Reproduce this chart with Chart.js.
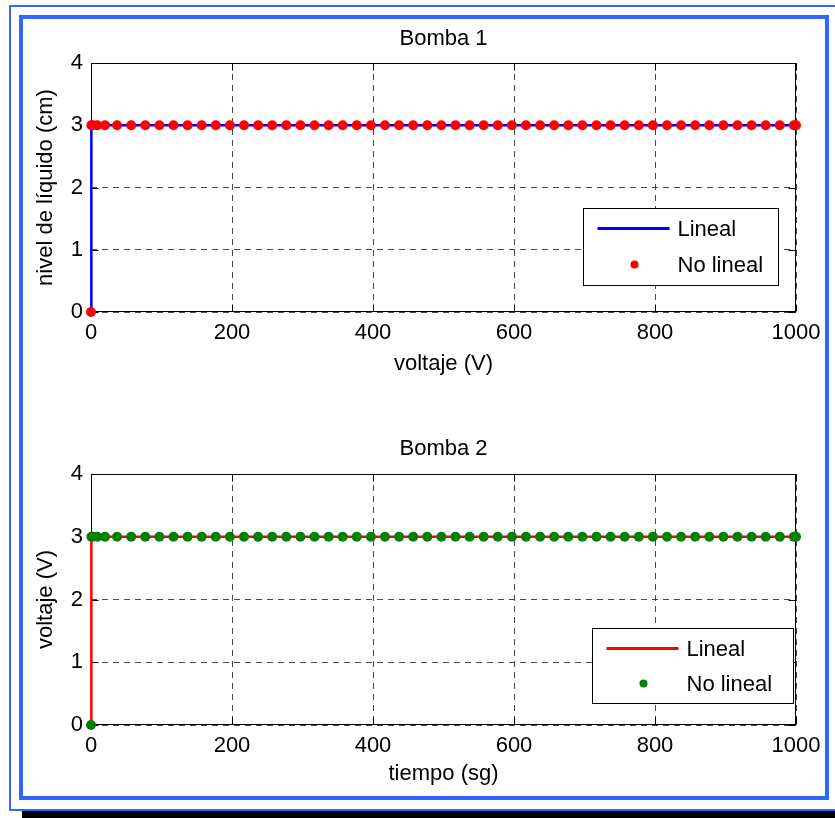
<!DOCTYPE html>
<html>
<head>
<meta charset="utf-8">
<script src="https://cdn.jsdelivr.net/npm/chart.js@4.4.1/dist/chart.umd.min.js"></script>
<style>
    html, body { margin: 0 ; padding: 0 ; background: #ffffff ; overflow: hidden ; }
    #page { position: relative ; width: 835px ; height: 818px ; }
    .frameOuter { position: absolute ; left: 9px ; top: 5px ; width: 840px ; height: 802px ; border: 2px solid #3366ff ; }
    .frameInner { position: absolute ; left: 19px ; top: 15px ; width: 802px ; height: 777px ; border: 4px solid #3366ff ; }
    .frameShadow { position: absolute ; left: 22px ; top: 811px ; width: 830px ; height: 10px ; background: #000000 ; }
    canvas { position: absolute ; left: 0 ; }
    #bomba1Canvas { top: 0 ; }
    #bomba2Canvas { top: 410px ; }
</style>
</head>
<body>
<div id="page">
    <div class="frameOuter"></div>
    <div class="frameInner"></div>
    <div class="frameShadow"></div>
    <canvas id="bomba1Canvas" width="835" height="410"></canvas>
    <canvas id="bomba2Canvas" width="835" height="408"></canvas>
</div>
<script>
// ---------------- Data --------------------------------------------------------
var tiempos = [ 0, 0.5, 2.4, 8.9, 19.9,
                37, 57, 77, 97, 117, 137, 157, 177, 197, 217, 237, 257, 277, 297,
                317, 337, 357, 377, 397, 417, 437, 457, 477, 497, 517, 537, 557, 577,
                597, 617, 637, 657, 677, 697, 717, 737, 757, 777, 797, 817, 837, 857,
                877, 897, 917, 937, 957, 977, 997, 1000 ] ;

var bomba1Lineal   = [ 0, 3, 3, 3, 3,
                       3, 3, 3, 3, 3, 3, 3, 3, 3, 3, 3, 3, 3, 3,
                       3, 3, 3, 3, 3, 3, 3, 3, 3, 3, 3, 3, 3, 3,
                       3, 3, 3, 3, 3, 3, 3, 3, 3, 3, 3, 3, 3, 3,
                       3, 3, 3, 3, 3, 3, 3, 3 ] ;
var bomba1NoLineal = [ 0, 3, 3, 3, 3,
                       3, 3, 3, 3, 3, 3, 3, 3, 3, 3, 3, 3, 3, 3,
                       3, 3, 3, 3, 3, 3, 3, 3, 3, 3, 3, 3, 3, 3,
                       3, 3, 3, 3, 3, 3, 3, 3, 3, 3, 3, 3, 3, 3,
                       3, 3, 3, 3, 3, 3, 3, 3 ] ;
var bomba2Lineal   = [ 0, 3, 3, 3, 3,
                       3, 3, 3, 3, 3, 3, 3, 3, 3, 3, 3, 3, 3, 3,
                       3, 3, 3, 3, 3, 3, 3, 3, 3, 3, 3, 3, 3, 3,
                       3, 3, 3, 3, 3, 3, 3, 3, 3, 3, 3, 3, 3, 3,
                       3, 3, 3, 3, 3, 3, 3, 3 ] ;
var bomba2NoLineal = [ 0, 3, 3, 3, 3,
                       3, 3, 3, 3, 3, 3, 3, 3, 3, 3, 3, 3, 3, 3,
                       3, 3, 3, 3, 3, 3, 3, 3, 3, 3, 3, 3, 3, 3,
                       3, 3, 3, 3, 3, 3, 3, 3, 3, 3, 3, 3, 3, 3,
                       3, 3, 3, 3, 3, 3, 3, 3 ] ;

var xTicks = [ 0, 200, 400, 600, 800, 1000 ] ;
var yTicks = [ 0, 1, 2, 3, 4 ] ;
var serieNames = [ 'Lineal', 'No lineal' ] ;

// ---------------- Styling ------------------------------------------------------
var FONT = "'Liberation Sans', Arial, sans-serif" ;
var FONT_SIZE = 22 ;

Chart.defaults.font.family = FONT ;
Chart.defaults.font.size = FONT_SIZE ;
Chart.defaults.color = '#000000' ;

function toPoints( xs, ys ) {
    var pts = [] ;
    for( var i=0; i<xs.length; i++ ) {
        pts.push( { x: xs[i], y: ys[i] } ) ;
    }
    return pts ;
}

// ---------------- Plugins ------------------------------------------------------
// Box round the plot area plus inward tick marks on all four sides.
var axesBoxPlugin = {
    id : 'axesBox',
    beforeDatasetsDraw : function( chart ) {
        var ctx = chart.ctx ;
        var a = chart.chartArea ;
        var xs = chart.scales.x ;
        var ys = chart.scales.y ;
        var L = Math.round( a.left ) + 0.5 ;
        var R = Math.round( a.right ) - 0.5 ;
        var T = Math.round( a.top ) + 0.5 ;
        var B = Math.round( a.bottom ) - 0.5 ;
        var tl = 7 ;

        ctx.save() ;
        ctx.strokeStyle = '#000000' ;
        ctx.lineWidth = 1 ;
        ctx.setLineDash( [] ) ;
        ctx.beginPath() ;
        xs.ticks.forEach( function( t ) {
            var px = Math.round( xs.getPixelForValue( t.value ) ) + 0.5 ;
            ctx.moveTo( px, B ) ; ctx.lineTo( px, B - tl ) ;
            ctx.moveTo( px, T ) ; ctx.lineTo( px, T + tl ) ;
        } ) ;
        ys.ticks.forEach( function( t ) {
            var py = Math.round( ys.getPixelForValue( t.value ) ) + 0.5 ;
            ctx.moveTo( L, py ) ; ctx.lineTo( L + tl, py ) ;
            ctx.moveTo( R, py ) ; ctx.lineTo( R - tl, py ) ;
        } ) ;
        ctx.stroke() ;
        ctx.strokeRect( L, T, R - L, B - T ) ;
        ctx.restore() ;
    }
} ;

// MATLAB style legend box inside the plot area.
var boxLegendPlugin = {
    id : 'boxLegend',
    afterDraw : function( chart, args, opts ) {
        var ctx = chart.ctx ;
        var a = chart.chartArea ;
        var w = opts.width, h = opts.height ;
        var left = Math.round( a.right - opts.right - w ) + 0.5 ;
        var top  = Math.round( a.bottom - opts.bottom - h ) + 0.5 ;
        var lineDs = chart.data.datasets[ 1 ] ;
        var dotDs  = chart.data.datasets[ 0 ] ;

        ctx.save() ;
        ctx.fillStyle = '#ffffff' ;
        ctx.fillRect( left, top, w, h ) ;
        ctx.strokeStyle = '#000000' ;
        ctx.lineWidth = 1 ;
        ctx.strokeRect( left, top, w, h ) ;

        var row1 = top + 20 ;
        var row2 = top + opts.row2 ;

        ctx.strokeStyle = lineDs.borderColor ;
        ctx.lineWidth = 3 ;
        ctx.beginPath() ;
        ctx.moveTo( left + 14, row1 ) ;
        ctx.lineTo( left + 86, row1 ) ;
        ctx.stroke() ;

        ctx.fillStyle = dotDs.backgroundColor ;
        ctx.beginPath() ;
        ctx.arc( left + 51, row2, 4, 0, Math.PI * 2 ) ;
        ctx.fill() ;

        ctx.fillStyle = '#000000' ;
        ctx.font = FONT_SIZE + 'px ' + FONT ;
        ctx.textBaseline = 'middle' ;
        ctx.textAlign = 'left' ;
        ctx.fillText( lineDs.label, left + 94, row1 + 1 ) ;
        ctx.fillText( dotDs.label, left + 94, row2 + 1 ) ;
        ctx.restore() ;
    }
} ;

// ---------------- Chart creation ---------------------------------------------
function makeChart( canvasId, p ) {

    var canvas = document.getElementById( canvasId ) ;
    return new Chart( canvas, {
        type : 'scatter',
        data : {
            datasets : [
                {
                    label           : serieNames[1],
                    data            : toPoints( tiempos, p.noLineal ),
                    showLine        : false,
                    pointRadius     : 5,
                    pointBorderWidth: 0,
                    backgroundColor : p.dotColor,
                    borderColor     : p.dotColor,
                    clip            : false,
                    order           : 0
                },
                {
                    label           : serieNames[0],
                    data            : toPoints( tiempos, p.lineal ),
                    showLine        : true,
                    pointRadius     : 0,
                    borderWidth     : 2.5,
                    borderColor     : p.lineColor,
                    backgroundColor : p.lineColor,
                    tension         : 0,
                    clip            : false,
                    order           : 1
                }
            ]
        },
        options : {
            responsive : false,
            animation : false,
            devicePixelRatio : 1,
            layout : { padding : { left: 0, right: 39, top: 0, bottom: 0 } },
            plugins : {
                legend  : { display: false },
                tooltip : { enabled: false },
                title : {
                    display : true,
                    fullSize : false,
                    text : p.title,
                    color : '#000000',
                    font : { size: FONT_SIZE, weight: 'normal', lineHeight: 1.2 },
                    padding : { top: p.titleTop, bottom: p.titleBottom }
                },
                boxLegend : p.legend
            },
            scales : {
                x : {
                    type : 'linear',
                    min : 0,
                    max : 1000,
                    afterBuildTicks : function( scale ) {
                        scale.ticks = xTicks.map( function( v ) { return { value: v } ; } ) ;
                    },
                    afterFit : function( scale ) { scale.height = p.xHeight ; },
                    ticks : { padding: 8, maxRotation: 0, autoSkip: false,
                              font : { size: FONT_SIZE },
                              callback : function( value ) { return '' + value ; } },
                    grid : { color: 'rgba(40,40,40,0.85)', lineWidth: 1, drawTicks: false },
                    border : { display: false, dash: [ 6, 5 ] },
                    title : {
                        display : true,
                        text : p.xLabel,
                        font : { size: FONT_SIZE, lineHeight: 1.2 },
                        padding : { top: 0, bottom: p.xTitleBottom }
                    }
                },
                y : {
                    type : 'linear',
                    min : 0,
                    max : 4,
                    afterBuildTicks : function( scale ) {
                        scale.ticks = yTicks.map( function( v ) { return { value: v } ; } ) ;
                    },
                    afterFit : function( scale ) { scale.width = 91 ; },
                    ticks : { padding: 8, font : { size: FONT_SIZE },
                              callback : function( value ) { return '' + value ; } },
                    grid : { color: 'rgba(40,40,40,0.85)', lineWidth: 1, drawTicks: false },
                    border : { display: false, dash: [ 6, 5 ] },
                    title : {
                        display : true,
                        text : p.yLabel,
                        font : { size: FONT_SIZE, lineHeight: 1.2 },
                        padding : { top: 33, bottom: 0 }
                    }
                }
            }
        },
        plugins : [ axesBoxPlugin, boxLegendPlugin ]
    } ) ;
}

makeChart( 'bomba1Canvas', {
    title        : 'Bomba 1',
    xLabel       : 'voltaje (V)',
    yLabel       : 'nivel de líquido (cm)',
    lineal       : bomba1Lineal,
    noLineal     : bomba1NoLineal,
    lineColor    : '#0000ff',
    dotColor     : '#ff0000',
    titleTop     : 26,
    titleBottom  : 10.6,
    xHeight      : 98,
    xTitleBottom : 33,
    legend       : { right: 18, bottom: 27, width: 195, height: 77, row2: 56 }
} ) ;

makeChart( 'bomba2Canvas', {
    title        : 'Bomba 2',
    xLabel       : 'tiempo (sg)',
    yLabel       : 'voltaje (V)',
    lineal       : bomba2Lineal,
    noLineal     : bomba2NoLineal,
    lineColor    : '#ff0000',
    dotColor     : '#008000',
    titleTop     : 26,
    titleBottom  : 11.6,
    xHeight      : 93,
    xTitleBottom : 31,
    legend       : { right: 3, bottom: 22, width: 201, height: 75, row2: 55 }
} ) ;
</script>
</body>
</html>
